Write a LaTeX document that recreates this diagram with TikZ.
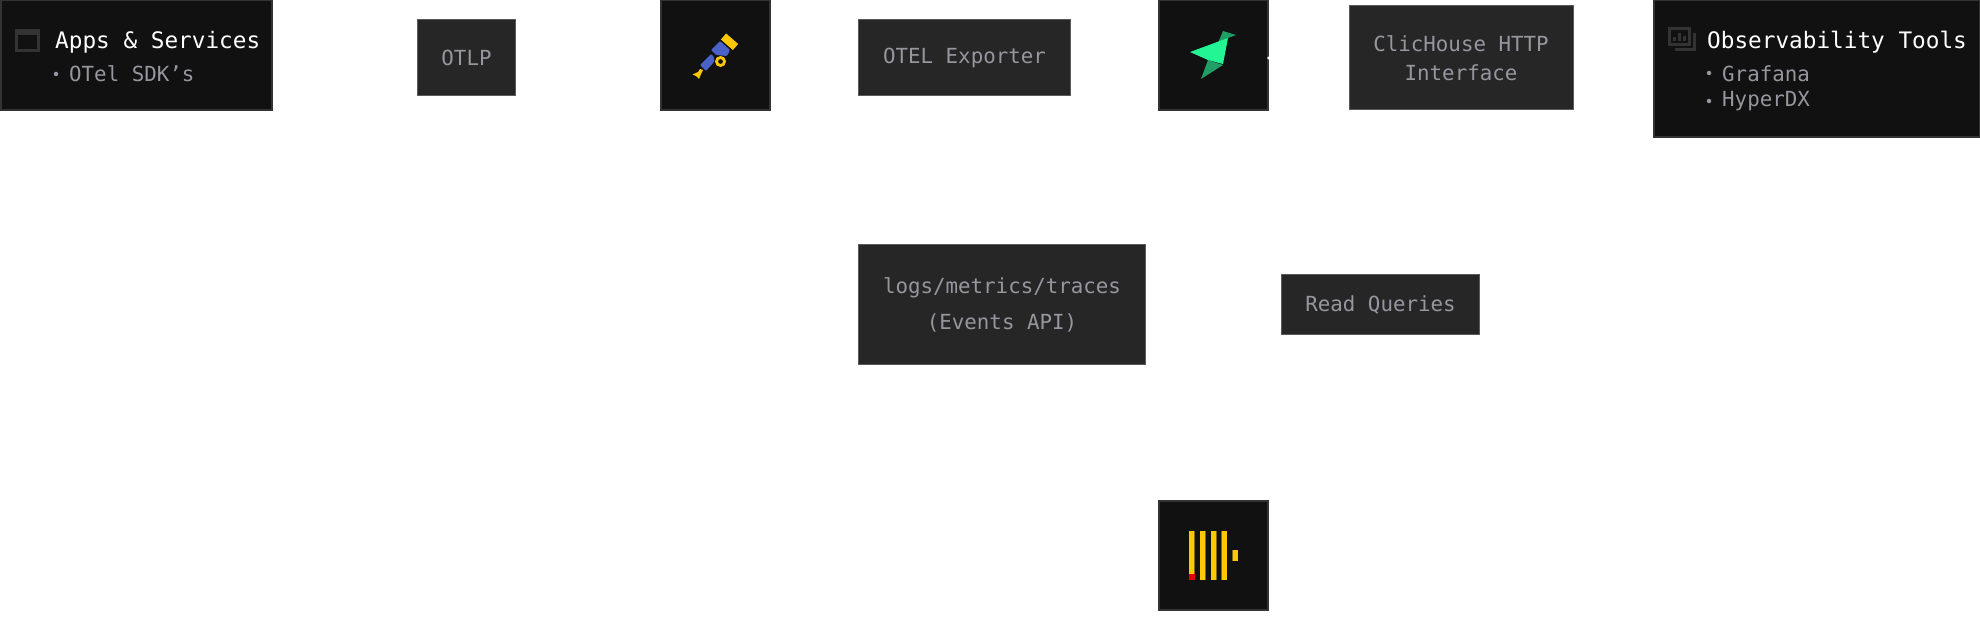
\documentclass[tikz,border=0pt]{standalone}
\usepackage{fontspec}
\setmonofont{DejaVu Sans Mono}[Ligatures=NoCommon]
\definecolor{boxdark}{HTML}{111111}
\definecolor{boxlabel}{HTML}{262626}
\definecolor{edgedark}{HTML}{333333}
\definecolor{edgelabel}{HTML}{5A5A5A}
\definecolor{greytext}{HTML}{96969F}
\definecolor{iconline}{HTML}{333333}
\definecolor{chyellow}{HTML}{FFC800}
\definecolor{chblue}{HTML}{4A62C8}
\definecolor{birdbright}{HTML}{23F594}
\definecolor{birddark}{HTML}{1F9E66}
\definecolor{chshade}{HTML}{7F6A10}
\tikzset{
  x=1pt,y=-1pt,
  darkbox/.style={draw=edgedark,line width=2pt,fill=boxdark,inner sep=0pt,outer sep=0pt},
  labelbox/.style={draw=edgelabel,line width=1pt,fill=boxlabel,text=greytext,inner sep=0pt,outer sep=0pt,align=center,
    font=\ttfamily\fontsize{20.8}{29}\selectfont},
  titletext/.style={text=white,anchor=west,inner sep=0pt,font=\ttfamily\fontsize{22.7}{26}\selectfont},
  itemtext/.style={text=greytext,anchor=west,inner sep=0pt,font=\ttfamily\fontsize{20.8}{26}\selectfont},
  iconstroke/.style={draw=iconline,line width=3pt,fill=none},
  bulletdot/.style={circle,fill=greytext,inner sep=0pt,minimum size=4.5pt}
}
\begin{document}
\begin{tikzpicture}
\useasboundingbox (0,0) rectangle (1980,617);
% boxes
\node[darkbox,minimum width=271pt,minimum height=110pt] (apps) at (136,55) {};
\node[labelbox,minimum width=98pt,minimum height=76pt] (otlp) at (466.5,57.5) {\raisebox{-2pt}{OTLP}};
\node[darkbox,minimum width=109pt,minimum height=110pt] (collector) at (715.5,55) {};
\node[labelbox,minimum width=212pt,minimum height=76pt] (exporter) at (964.5,57.5) {\raisebox{-2pt}{OTEL Exporter}};
\node[darkbox,minimum width=109pt,minimum height=110pt] (bird) at (1213.5,55) {};
\node[labelbox,minimum width=224pt,minimum height=104pt] (http) at (1461,58) {ClicHouse HTTP\\Interface};
\node[darkbox,minimum width=326pt,minimum height=137pt] (tools) at (1816.5,68.5) {};
\node[labelbox,minimum width=287pt,minimum height=119pt,font=\ttfamily\fontsize{20.8}{36}\selectfont] (events) at (1002,304.5) {logs/metrics/traces\\(Events API)};
\node[labelbox,minimum width=198pt,minimum height=60pt] (read) at (1380.5,304.5) {Read Queries};
\node[darkbox,minimum width=109pt,minimum height=109pt] (ch) at (1213.5,555) {};
% Apps text and icon
\draw[iconstroke] (16,31) rectangle (38,50.5);
\draw[iconline,line width=3pt] (16,33.5) -- (38,33.5);
\node[titletext] (appstitle) at (55,42) {Apps \& Services};
\node[bulletdot] (appsdot) at (56,74) {};
\node[itemtext] (appsitem) at (69,74) {OTel SDK’s};
% Tools text and icon
\draw[iconstroke] (1669.5,28.5) rectangle (1689,45);
\draw[iconstroke] (1675,50) -- (1694,50) -- (1694,33);
\draw[iconline,line width=2.4pt] (1674.5,41) -- (1674.5,37) (1679.5,41) -- (1679.5,33) (1684.5,41) -- (1684.5,36);
\node[titletext] (toolstitle) at (1707,42) {Observability Tools};
\node[bulletdot] (toolsdota) at (1709,73) {};
\node[itemtext] (toolsitema) at (1722,74) {Grafana};
\node[bulletdot] (toolsdotb) at (1709,101) {};
\node[itemtext] (toolsitemb) at (1722,101) {HyperDX};
% telescope icon
\draw[chyellow,line width=8pt,rounded corners=1pt] (723.5,36.5) -- (735.5,47);
\fill[chblue,rounded corners=1pt] (720,41) -- (730,50) -- (727,56) -- (716,55) -- (711,50) -- cycle;
\fill[chblue,rounded corners=1pt] (711,54) -- (714,57) -- (714,62) -- (706,71) -- (700,65) -- cycle;
\draw[chyellow,line width=2.8pt,fill=boxdark] (720.5,61.5) circle (4pt);
\fill[chyellow] (703,70) -- (701.5,73) -- (699,79) -- (696,76) -- (692.5,74.5) -- (698,72) -- (700,69) -- cycle;
% bird icon
\fill[birddark] (1223,31) -- (1236,35) -- (1228,38) -- (1218,43) -- cycle;
\fill[birddark] (1208,60) -- (1223,65) -- (1201,79) -- cycle;
\fill[birdbright] (1190,52) -- (1228,38) -- (1223,64) -- (1208,60) -- cycle;
\fill[white] (1268.5,58) circle (1.5pt);
% ClickHouse icon
\fill[chyellow] (1189,531) rectangle (1194,580);
\fill[chshade] (1194,531) rectangle (1195,580);
\fill[red!90!black] (1189,574) rectangle (1195,580);
\fill[chyellow] (1200,531) rectangle (1205,580);
\fill[chshade] (1205,531) rectangle (1206,580);
\fill[chyellow] (1211,531) rectangle (1216,580);
\fill[chshade] (1216,531) rectangle (1217,580);
\fill[chshade] (1221,531) rectangle (1222,580);
\fill[chyellow] (1222,531) rectangle (1227,580);
\fill[chshade] (1232,550) rectangle (1233,561);
\fill[chyellow] (1233,550) rectangle (1238,561);
\end{tikzpicture}
\end{document}
